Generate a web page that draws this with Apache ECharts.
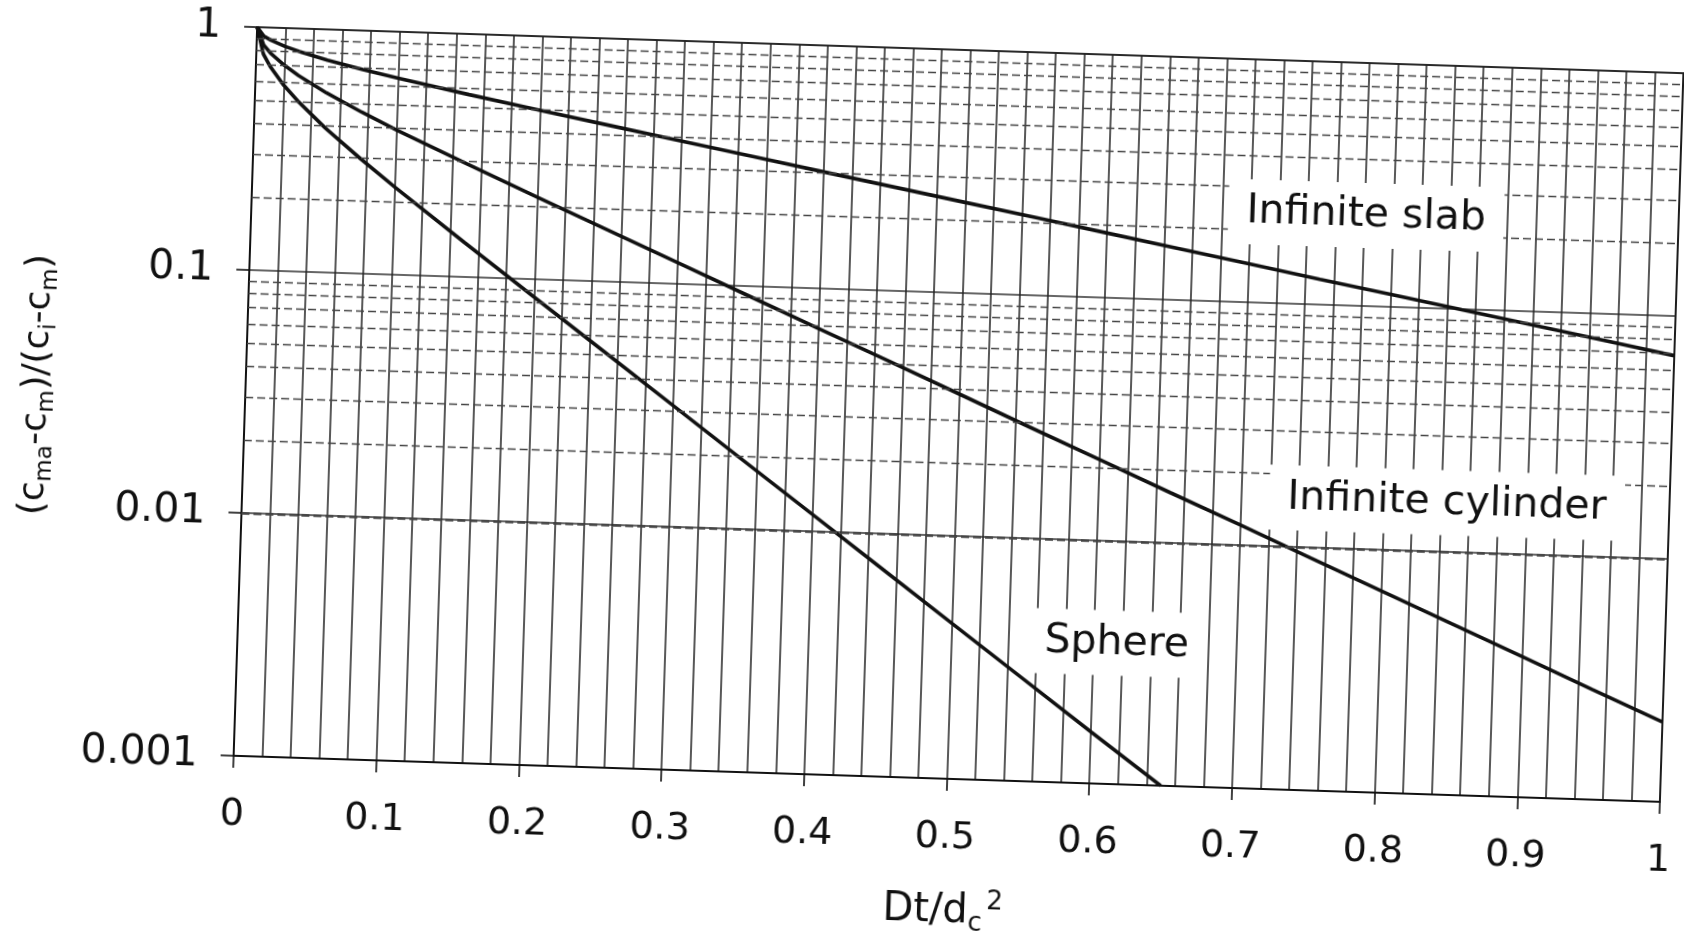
<!DOCTYPE html>
<html>
<head>
<meta charset="utf-8">
<script src="https://cdn.jsdelivr.net/npm/echarts@6/dist/echarts.min.js"></script>
<style>
html,body{margin:0;padding:0;background:#fff;overflow:hidden;width:1684px;height:931px;}
#chart{position:absolute;left:0;top:0;width:1684px;height:931px;transform-origin:959px 415px;transform:rotate(1.85deg);}
</style>
</head>
<body>
<div id="chart"></div>
<script>
// Dt/dc^2 sample positions
const dtValues = [0, 0.005, 0.01, 0.02, 0.03, 0.05, 0.075, 0.1, 0.15, 0.2, 0.25, 0.3, 0.35, 0.4, 0.45, 0.5, 0.55, 0.6, 0.65, 0.7, 0.75, 0.8, 0.85, 0.9, 0.95, 1.0];
const slabValues = [1, 0.920, 0.887, 0.840, 0.805, 0.748, 0.691, 0.643, 0.563, 0.496, 0.438, 0.387, 0.342, 0.302, 0.267, 0.236, 0.209, 0.1845, 0.163, 0.144, 0.127, 0.1126, 0.0995, 0.088, 0.0778, 0.0687];
const cylinderValues = [1, 0.846, 0.785, 0.702, 0.641, 0.548, 0.462, 0.394, 0.292, 0.2178, 0.163, 0.1221, 0.0914, 0.0684, 0.0513, 0.0384, 0.0287, 0.0215, 0.0161, 0.0121, 0.00904, 0.00677, 0.00507, 0.0038, 0.00284, 0.00213];
const sphereDt = [0, 0.005, 0.01, 0.02, 0.03, 0.05, 0.075, 0.1, 0.15, 0.2, 0.25, 0.3, 0.35, 0.4, 0.45, 0.5, 0.55, 0.6, 0.65];
const sphereValues = [1, 0.776, 0.692, 0.581, 0.504, 0.393, 0.298, 0.2295, 0.1387, 0.0845, 0.0516, 0.0315, 0.0192, 0.01173, 0.00716, 0.00437, 0.00267, 0.00163, 0.001];

const xTickLabels = ['0', '0.1', '0.2', '0.3', '0.4', '0.5', '0.6', '0.7', '0.8', '0.9', '1'];
const yTickValues = [0.001, 0.01, 0.1, 1];
const yTickLabels = ['0.001', '0.01', '0.1', '1'];
const minorYLines = [0.002, 0.003, 0.004, 0.005, 0.006, 0.007, 0.008, 0.009,
                     0.02, 0.03, 0.04, 0.05, 0.06, 0.07, 0.08, 0.09,
                     0.2, 0.3, 0.4, 0.5, 0.6, 0.7, 0.8, 0.9];

const curveNames = ['Infinite slab', 'Infinite cylinder', 'Sphere'];
const curveLabelDt = [0.781, 0.844, 0.616];
const curveLabelValue = [0.236, 0.0159, 0.0038];

const FONT = 'DejaVu Sans';
const INK = '#111111';

function pairs(xs, ys) { return xs.map((x, i) => [x, ys[i]]); }

const chart = echarts.init(document.getElementById('chart'), null, {renderer: 'canvas'});

const curveStyle = {color: INK, width: 3.6};

chart.setOption({
  animation: false,
  backgroundColor: '#fff',
  grid: {left: 245, top: 50, width: 1427, height: 729, containLabel: false, outerBoundsMode: 'none',
         show: true, borderColor: INK, borderWidth: 2, backgroundColor: 'transparent'},
  xAxis: {
    type: 'value', min: 0, max: 1, interval: 0.1,
    axisLine: {show: true, onZero: false, lineStyle: {color: INK, width: 2}},
    axisTick: {show: true, inside: false, length: 12, lineStyle: {color: INK, width: 1.6}},
    axisLabel: {
      margin: 40, fontSize: 38, fontFamily: FONT, color: INK,
      formatter: v => xTickLabels[Math.round(v * 10)]
    },
    splitLine: {show: true, lineStyle: {color: '#222', width: 1.5}},
    minorTick: {show: false, splitNumber: 5},
    minorSplitLine: {show: true, lineStyle: {color: '#222', width: 1.5}},
    name: '{m|Dt/d}{sub|c}{sup|2}',
    nameLocation: 'middle', nameGap: 109,
    nameTextStyle: {
      color: INK, fontFamily: FONT,
      rich: {
        m: {fontSize: 40, fontFamily: FONT, color: INK, lineHeight: 48},
        sub: {fontSize: 26, fontFamily: FONT, color: INK, lineHeight: 12, verticalAlign: 'bottom'},
        sup: {fontSize: 26, fontFamily: FONT, color: INK, lineHeight: 12, verticalAlign: 'top', padding: [0, 0, 0, 4]}
      }
    }
  },
  yAxis: {
    type: 'log', logBase: 10, min: 0.001, max: 1,
    axisLine: {show: true, lineStyle: {color: INK, width: 2}},
    axisTick: {show: true, inside: false, length: 13, lineStyle: {color: INK, width: 1.6}},
    axisLabel: {
      margin: 36, fontSize: 41, fontFamily: FONT, color: INK,
      formatter: v => {
        let best = 0;
        yTickValues.forEach((t, i) => { if (Math.abs(Math.log10(t) - Math.log10(v)) < Math.abs(Math.log10(yTickValues[best]) - Math.log10(v))) best = i; });
        return yTickLabels[best];
      }
    },
    splitLine: {show: true, lineStyle: {color: '#333', width: 1.5}},
    name: '{m|(c}{sub|ma}{m|-c}{sub|m}{m|)/(c}{sub|i}{m|-c}{sub|m}{m|)}',
    nameLocation: 'middle', nameRotate: 90, nameGap: 186,
    nameTextStyle: {
      color: INK, fontFamily: FONT,
      rich: {
        m: {fontSize: 36, fontFamily: FONT, color: INK, lineHeight: 44},
        sub: {fontSize: 23, fontFamily: FONT, color: INK, lineHeight: 10, verticalAlign: 'bottom'}
      }
    }
  },
  series: [
    {
      type: 'line', name: 'minor', data: [], z: 1, silent: true,
      markLine: {
        silent: true, symbol: ['none', 'none'], animation: false,
        label: {show: false},
        lineStyle: {color: '#444', width: 1.3, type: [8, 4]},
        emphasis: {disabled: true},
        data: minorYLines.map(v => ({yAxis: v}))
      }
    },
    {type: 'line', name: curveNames[0], data: pairs(dtValues, slabValues), showSymbol: false, symbol: 'none', lineStyle: curveStyle, z: 3, silent: true},
    {type: 'line', name: curveNames[1], data: pairs(dtValues, cylinderValues), showSymbol: false, symbol: 'none', lineStyle: curveStyle, z: 3, silent: true},
    {type: 'line', name: curveNames[2], data: pairs(sphereDt, sphereValues), showSymbol: false, symbol: 'none', lineStyle: curveStyle, z: 3, silent: true},
    {
      type: 'scatter', name: 'labels', z: 5, silent: true,
      symbolSize: 1, itemStyle: {color: '#fff', opacity: 1},
      data: curveNames.map((n, i) => ({name: n, value: [curveLabelDt[i], curveLabelValue[i]]})),
      label: {
        show: true, position: 'inside', formatter: '{b}', opacity: 1,
        fontSize: 41, fontFamily: FONT, color: INK, textBorderWidth: 0,
        backgroundColor: '#fff', padding: [12, 18]
      }
    }
  ]
});
</script>
</body>
</html>
